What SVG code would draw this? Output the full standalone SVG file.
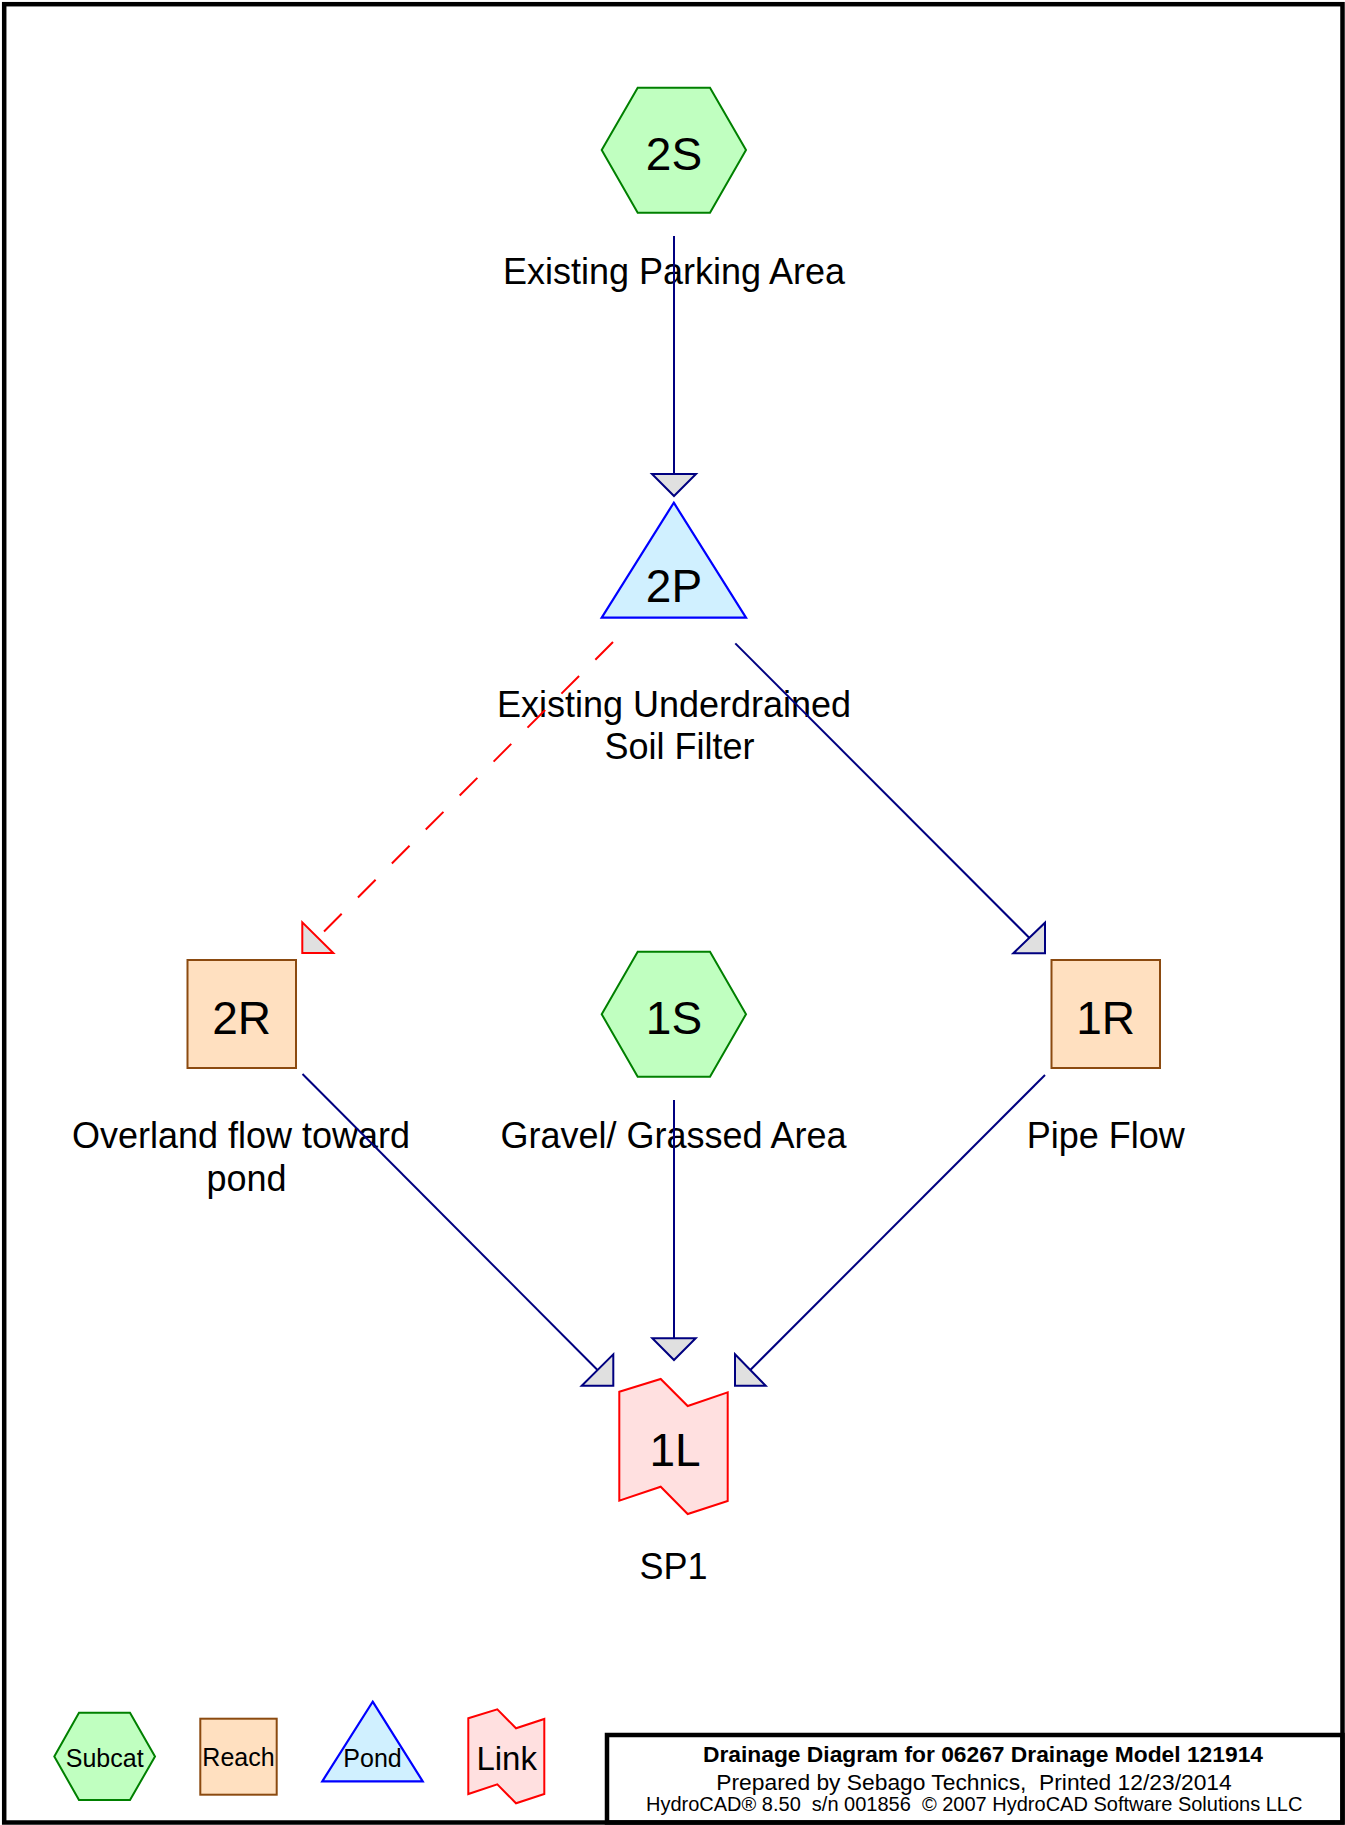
<svg xmlns="http://www.w3.org/2000/svg" width="1345" height="1825" viewBox="0 0 1345 1825">
<style>
text{font-family:"Liberation Sans",Arial,sans-serif;fill:#000;text-anchor:middle}
.id{font-size:46px}
.lbl{font-size:36px}
.leg{font-size:25px}
.sub{fill:#c0ffc0;stroke:#008000;stroke-width:2}
.rch{fill:#ffe0c0;stroke:#8b4a10;stroke-width:2}
.pnd{fill:#d0f0ff;stroke:#0000ff;stroke-width:2.2}
.lnk{fill:#ffe0e0;stroke:#ff0000;stroke-width:2}
.con{stroke:#000080;stroke-width:2;fill:none}
.arr{fill:#e0e0e0;stroke:#000080;stroke-width:2;stroke-linejoin:miter}
.dash{stroke:#ff0000;stroke-width:2;fill:none;stroke-dasharray:25 23}
.arrr{fill:#e0e0e0;stroke:#ff0000;stroke-width:2}
.frame{fill:none;stroke:#000;stroke-width:4.5}
.t1{font-size:22.8px;font-weight:bold}
.t2{font-size:22.8px}
.t3{font-size:20px}
</style>
<rect x="0" y="0" width="1345" height="1825" fill="#fff"/>
<rect class="frame" x="4.2" y="4.2" width="1338.3" height="1818.3"/>

<g id="node-2S">
<polygon class="sub" points="601.7,150 637.7,87.7 710,87.7 746,150 710,212.7 637.7,212.7"/>
<text class="id" x="674" y="170">2S</text>
<text class="lbl" x="674" y="284">Existing Parking Area</text>
</g>

<g id="node-2P">
<polygon class="pnd" points="673.8,502.7 746,617.7 601.7,617.7"/>
<text class="id" x="674" y="601.7">2P</text>
<text class="lbl" x="674" y="716.5">Existing Underdrained</text>
<text class="lbl" x="679.5" y="758.5">Soil Filter</text>
</g>

<g id="node-2R">
<rect class="rch" x="187.5" y="960" width="108.5" height="108"/>
<text class="id" x="241.7" y="1034">2R</text>
<text class="lbl" x="241" y="1148.3">Overland flow toward</text>
<text class="lbl" x="246.6" y="1191">pond</text>
</g>

<g id="node-1S">
<polygon class="sub" points="601.7,1014.2 637.7,951.7 710,951.7 746,1014.2 710,1076.7 637.7,1076.7"/>
<text class="id" x="674" y="1034.3">1S</text>
<text class="lbl" x="673.5" y="1148.3">Gravel/ Grassed Area</text>
</g>

<g id="node-1R">
<rect class="rch" x="1051.5" y="960" width="108.5" height="108"/>
<text class="id" x="1105.7" y="1034">1R</text>
<text class="lbl" x="1105.7" y="1148.3">Pipe Flow</text>
</g>

<g id="node-1L">
<polygon class="lnk" points="619.3,1391.7 660.7,1379 687.7,1406 727.7,1392.3 727.7,1501 687.7,1514 660.7,1486.7 619.3,1500.7"/>
<text class="id" x="675" y="1466">1L</text>
<text class="lbl" x="673.5" y="1579">SP1</text>
</g>

<g id="connectors">
<line class="con" x1="674" y1="236" x2="674" y2="474"/>
<polygon class="arr" points="652,474 696,474 674,496"/>
<line class="dash" x1="613" y1="642" x2="318" y2="937.5"/>
<polygon class="arrr" points="302.3,922.3 302.3,953 333.3,953"/>
<line class="con" x1="735.3" y1="643.4" x2="1029.5" y2="938"/>
<polygon class="arr" points="1045,922.7 1045,953.3 1013.3,953.3"/>
<line class="con" x1="302.5" y1="1074" x2="597.5" y2="1370"/>
<polygon class="arr" points="613.3,1354.3 613.3,1385.7 581.7,1385.7"/>
<line class="con" x1="674" y1="1100" x2="674" y2="1338.3"/>
<polygon class="arr" points="652.3,1338.3 695.7,1338.3 674,1360"/>
<line class="con" x1="1045" y1="1075" x2="750.3" y2="1370"/>
<polygon class="arr" points="735,1354.3 735,1385.7 765.7,1385.7"/>
</g>

<g id="legend">
<g id="legend-subcat">
<polygon class="sub" points="54.3,1756.5 79,1712.7 130,1712.7 155,1756.5 130,1800 79,1800"/>
<text class="leg" x="104.7" y="1766.7">Subcat</text>
</g>
<g id="legend-reach">
<rect class="rch" x="200.3" y="1718.7" width="76.4" height="76"/>
<text class="leg" x="238.5" y="1766">Reach</text>
</g>
<g id="legend-pond">
<polygon class="pnd" points="372.7,1701.7 422.7,1781.3 322.3,1781.3"/>
<text class="leg" x="372.5" y="1766.7">Pond</text>
</g>
<g id="legend-link">
<polygon class="lnk" points="468.3,1718.3 497.3,1709.3 516,1728.3 544.3,1719 544.3,1794 516,1803.3 497.3,1784.3 468.3,1794"/>
<text x="506.7" y="1770" style="font-size:33px">Link</text>
</g>
</g>

<g id="title-block">
<rect class="frame" x="607" y="1735" width="735.5" height="87.5"/>
<text class="t1" x="983" y="1761.7">Drainage Diagram for 06267 Drainage Model 121914</text>
<text class="t2" x="974" y="1790" xml:space="preserve">Prepared by Sebago Technics,  Printed 12/23/2014</text>
<text class="t3" x="974.2" y="1810.7" xml:space="preserve">HydroCAD® 8.50  s/n 001856  © 2007 HydroCAD Software Solutions LLC</text>
</g>
</svg>
